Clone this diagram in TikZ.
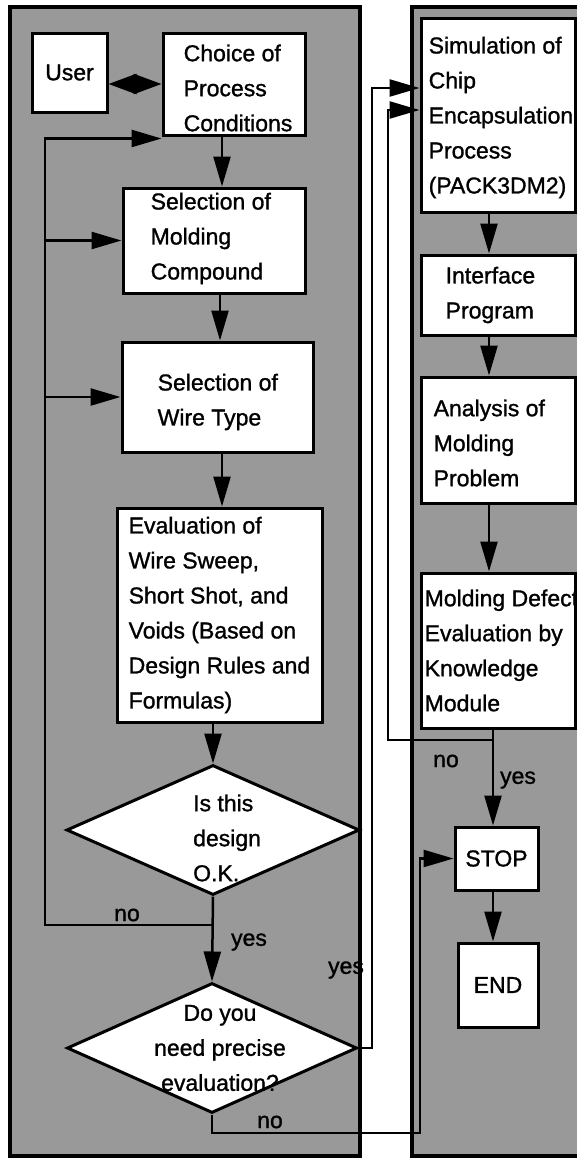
\documentclass[tikz,border=0pt]{standalone}
\usepackage{fontspec}
\setmainfont{Liberation Sans}[UprightFeatures={FakeBold=1.2}]
\usetikzlibrary{arrows.meta,shapes.geometric}
\definecolor{panelgray}{gray}{0.6}
\begin{document}
\begin{tikzpicture}[x=1pt,y=-1pt,
  every node/.style={font=\fontsize{23}{35}\selectfont},
  box/.style={draw,line width=3pt,fill=white,inner sep=0pt},
  dia/.style={draw,diamond,line width=3pt,fill=white,inner sep=0pt},
  txt/.style={inner sep=0pt,align=left,anchor=west},
  ctxt/.style={inner sep=0pt,align=center},
  lbl/.style={inner sep=0pt},
  conn/.style={line width=2.5pt},
  arr/.style={conn,-{Triangle[length=30pt,width=17pt]}},
  panel/.style={draw,line width=3.5pt,fill=panelgray}
]
\useasboundingbox (0,0) rectangle (577,1160);
\clip (0,0) rectangle (577,1160);
\fill[white] (0,0) rectangle (577,1160);
% panels
\path[panel] (10,7) rectangle (360,1156);
\path[panel] (412,7) rectangle (600,1156);

% left column boxes
\node[box,minimum width=75pt,minimum height=79pt] (user) at (69.5,72.5) {User};
\node[box,minimum width=142pt,minimum height=102pt] (choice) at (234,84) {};
\node[box,minimum width=182pt,minimum height=105pt] (molding) at (214,240.5) {};
\node[box,minimum width=191pt,minimum height=110pt] (wire) at (217.5,397) {};
\node[box,minimum width=205pt,minimum height=214pt] (eval) at (219.5,615) {};
\node[dia,minimum width=293pt,minimum height=130pt] (d1) at (213,830) {};
\node[dia,minimum width=290pt,minimum height=130pt] (d2) at (212,1048) {};

% right column boxes
\node[box,minimum width=154pt,minimum height=194pt] (sim) at (498,115) {};
\node[box,minimum width=154pt,minimum height=80pt] (interface) at (498,295) {};
\node[box,minimum width=154pt,minimum height=126pt] (analysis) at (498,440) {};
\node[box,minimum width=154pt,minimum height=155pt] (module) at (498,650.5) {};
\node[box,minimum width=83pt,minimum height=63pt] (stop) at (496.5,858.5) {STOP};
\node[box,minimum width=80pt,minimum height=84pt] (endbox) at (498,985) {END};

% helper coordinates
\coordinate (lx) at (45,0);
\coordinate (j1) at (213,925);
\coordinate (yx) at (372,0);
\coordinate (nx) at (388,0);
\coordinate (rx) at (489,0);
\coordinate (j2) at (493,740);
\coordinate (bx) at (420,1133);
\coordinate (simA) at ([yshift=27pt]sim.west);
\coordinate (simB) at ([yshift=5pt]sim.west);

% connectors, left column
\draw[conn,{Triangle[length=28pt,width=20pt]}-{Triangle[length=28pt,width=20pt]}]
  (choice.west -| user.east) -- (choice.west);
\draw[arr] ([xshift=-12pt]choice.south) -- ([xshift=-12pt]choice.south |- molding.north);
\draw[arr] ([xshift=6pt]molding.south) -- ([xshift=6pt]molding.south |- wire.north);
\draw[arr] ([xshift=4.5pt]wire.south) -- ([xshift=4.5pt]wire.south |- eval.north);
\draw[arr] (eval.south -| d1.north) -- (d1.north);
\draw[arr] (d1.south) -- (d2.north);
\draw[arr] (d1.south) -- (j1) -- (j1 -| lx) -- ([yshift=-2pt]choice.south west -| lx)
  -- ([yshift=-2pt]choice.south west);
\draw[arr] (molding.west -| lx) -- (molding.west);
\draw[arr] (wire.west -| lx) -- (wire.west);
\draw[arr] (d2.east) -- (d2.east -| yx) -- (yx |- simA) -- (simA);
\draw[arr] (d2.south) -- (d2.south |- bx) -- (bx) -- (bx |- stop.west) -- (stop.west);

% connectors, right column
\draw[arr] (sim.south -| rx) -- (interface.north -| rx);
\draw[arr] (interface.south -| rx) -- (analysis.north -| rx);
\draw[arr] (analysis.south -| rx) -- (module.north -| rx);
\draw[arr] (module.south -| j2) -- (j2) -- (j2 -| nx) -- (nx |- simB) -- (simB);
\draw[arr] (j2) -- (stop.north -| j2);
\draw[arr] (stop.south -| j2) -- (endbox.north -| j2);

% texts
\node[txt] (choicet) at ([xshift=22pt,yshift=-4pt]choice.west) {Choice of\\Process\\Conditions};
\node[txt] (moldingt) at ([xshift=29pt,yshift=2pt]molding.west) {Selection of\\Molding\\Compound};
\node[txt] (wiret) at ([xshift=37pt,yshift=-5pt]wire.west) {Selection of\\Wire Type};
\node[txt] (evalt) at ([xshift=13pt]eval.west) {Evaluation of\\Wire Sweep,\\Short Shot, and\\Voids (Based on\\Design Rules and\\Formulas)};
\node[txt] (d1t) at ([xshift=-20pt,yshift=-8pt]d1.center) {Is this\\design\\O.K.};
\node[ctxt] (d2t) at ([xshift=8pt]d2.center) {Do you\\need precise\\evaluation?};
\node[txt] (simt) at ([xshift=9pt,yshift=-2.5pt]sim.west) {Simulation of\\Chip\\Encapsulation\\Process\\(PACK3DM2)};
\node[txt] (interfacet) at ([xshift=26pt]interface.west) {Interface\\Program};
\node[txt] (analysist) at ([xshift=14pt,yshift=-3pt]analysis.west) {Analysis of\\Molding\\Problem};
\node[txt] (modulet) at ([xshift=5pt]module.west) {Molding Defect\\Evaluation by\\Knowledge\\Module};

% labels
\node[lbl] (no1) at (127,915) {no};
\node[lbl] (yes1) at (249,942) {yes};
\node[lbl] (yes2) at (346,970) {yes};
\node[lbl] (no2) at (270,1122) {no};
\node[lbl] (no3) at (446,761) {no};
\node[lbl] (yes3) at (518,780) {yes};
\end{tikzpicture}
\end{document}
